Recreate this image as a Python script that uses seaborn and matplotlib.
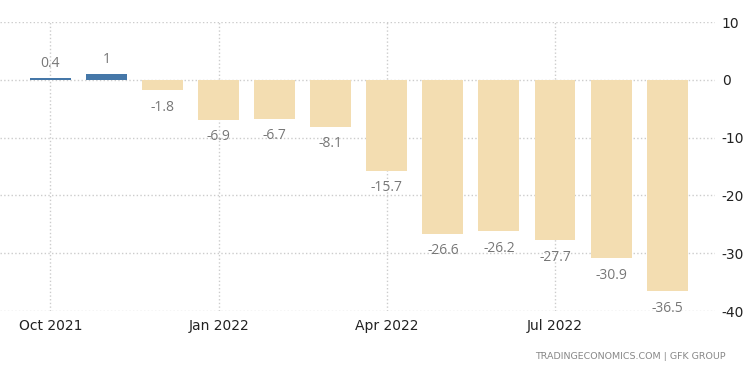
import seaborn as sns
import pandas as pd
import matplotlib.pyplot as plt

# consumer confidence, monthly
months = ["Oct 2021", "Nov 2021", "Dec 2021", "Jan 2022", "Feb 2022", "Mar 2022",
          "Apr 2022", "May 2022", "Jun 2022", "Jul 2022", "Aug 2022", "Sep 2022"]
values = [0.4, 1, -1.8, -6.9, -6.7, -8.1, -15.7, -26.6, -26.2, -27.7, -30.9, -36.5]
shown_ticks = ["Oct 2021", "Jan 2022", "Apr 2022", "Jul 2022"]
y_ticks = [10, 0, -10, -20, -30, -40]

sns.set_style("white")
plt.rcParams["font.family"] = ["DejaVu Sans"]
plt.rcParams["axes.unicode_minus"] = False

df = pd.DataFrame({"month": months, "value": values})
colors = ["#4577a8" if v >= 0 else "#f3ddb1" for v in values]

fig = plt.figure(figsize=(7.5, 3.73), dpi=100)
ax = fig.add_axes([0.0, 0.166, 0.953, 0.775])

sns.barplot(data=df, x="month", y="value", hue="month", palette=colors,
            legend=False, dodge=False, width=0.73, saturation=1,
            edgecolor="none", linewidth=0, ax=ax)

# value labels
for i, v in enumerate(values):
    txt = f"{v:g}"
    if v >= 0:
        ax.annotate(txt, (i, v), xytext=(0, 5), textcoords="offset points",
                    ha="center", va="bottom", fontsize=10, color="#777777",
                    family="Open Sans")
    else:
        ax.annotate(txt, (i, v), xytext=(0, -7), textcoords="offset points",
                    ha="center", va="top", fontsize=10, color="#777777",
                    family="Open Sans")

ax.set_ylim(-40, 10)
ax.set_xlim(-0.9, 11.85)
ax.set_yticks(y_ticks)
ax.set_yticklabels([str(t) for t in y_ticks])
ax.yaxis.tick_right()
ax.set_xticks([months.index(m) for m in shown_ticks])
ax.set_xticklabels(shown_ticks)
ax.tick_params(axis="both", length=0, labelsize=10, labelcolor="#222222")
ax.tick_params(axis="x", pad=6)
ax.tick_params(axis="y", pad=5)
ax.set_xlabel("")
ax.set_ylabel("")

ax.grid(True, linestyle=":", color="#cccccc", linewidth=1)
ax.set_axisbelow(True)
for s in ax.spines.values():
    s.set_visible(False)

fig.text(0.968, 0.045, "TRADINGECONOMICS.COM | GFK GROUP", ha="right", va="center",
         fontsize=6.8, color="#888888")

fig.savefig("out.png", dpi=100)
